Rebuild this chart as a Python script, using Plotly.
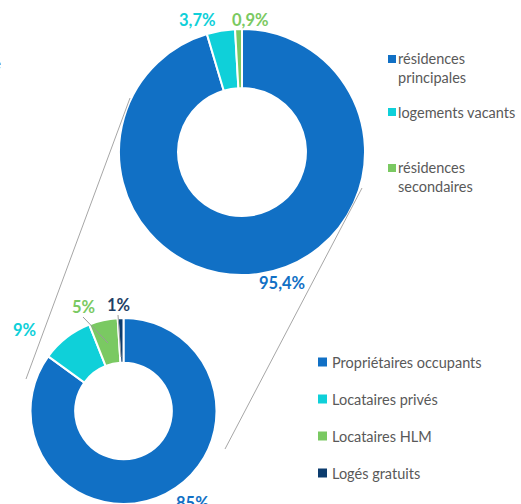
import plotly.graph_objects as go

# --- data -------------------------------------------------------------
parc_labels = ["résidences principales", "logements vacants", "résidences secondaires"]
parc_values = [95.4, 3.7, 0.9]
parc_text = ["95,4%", "3,7%", "0,9%"]

occ_labels = ["Propriétaires occupants", "Locataires privés", "Locataires HLM", "Logés gratuits"]
occ_values = [85, 9, 5, 1]
occ_text = ["85%", "9%", "5%", "1%"]

# --- styles -----------------------------------------------------------
W, H = 521, 504
parc_colors = ["#1170c5", "#0fd0d9", "#7ac962"]
occ_colors = ["#1170c5", "#0fd0d9", "#7ac962", "#0c3c6e"]
label_font = "Lato, 'Open Sans', sans-serif"
legend_grey = "#595959"
connector_grey = "#a6a6a6"


def X(px):
    return px / W


def Y(py):
    return 1 - py / H


fig = go.Figure()

# upper donut: centre (242, 152), radius 123 px
fig.add_trace(go.Pie(
    labels=parc_labels, values=parc_values, hole=0.52, sort=False,
    direction="clockwise", rotation=0, textinfo="none", hoverinfo="skip",
    marker=dict(colors=parc_colors, line=dict(color="white", width=2)),
    domain=dict(x=[X(119), X(365)], y=[Y(275), Y(29)]),
    showlegend=False,
))

# lower donut: anchored on the bottom edge
fig.add_trace(go.Pie(
    labels=occ_labels, values=occ_values, hole=0.52, sort=False,
    direction="clockwise", rotation=0, textinfo="none", hoverinfo="skip",
    marker=dict(colors=occ_colors, line=dict(color="white", width=2)),
    domain=dict(x=[X(29), X(218)], y=[0, Y(318)]),
    showlegend=False,
))

annotations = []
shapes = []

# percentage labels around the donuts
parc_label_pos = [(282, 283), (197, 20), (250, 20)]
for txt, col, (px, py) in zip(parc_text, parc_colors, parc_label_pos):
    annotations.append(dict(x=X(px), y=Y(py), xref="paper", yref="paper", text=f"<b>{txt}</b>",
                            showarrow=False, xanchor="center", yanchor="middle",
                            font=dict(family=label_font, size=16.5, color=col)))

occ_label_colors = ["#1170c5", "#0fd0d9", "#7ac962", "#1f3f66"]
occ_label_pos = [(192, 503), (24, 330), (83, 307), (118, 305)]
for txt, col, (px, py) in zip(occ_text, occ_label_colors, occ_label_pos):
    annotations.append(dict(x=X(px), y=Y(py), xref="paper", yref="paper", text=f"<b>{txt}</b>",
                            showarrow=False, xanchor="center", yanchor="middle",
                            font=dict(family=label_font, size=16.5, color=col)))

# leader lines for the two thin slices
for (x0, y0, x1, y1) in [(83, 317, 108, 343), (118, 315, 121, 357)]:
    shapes.append(dict(type="line", xref="paper", yref="paper",
                       x0=X(x0), y0=Y(y0), x1=X(x1), y1=Y(y1),
                       line=dict(color="#9a9a9a", width=1)))

# connector lines between the two donuts
for (x0, y0, x1, y1) in [(130, 98, 26, 379), (362, 188, 225, 449)]:
    shapes.append(dict(type="line", xref="paper", yref="paper",
                       x0=X(x0), y0=Y(y0), x1=X(x1), y1=Y(y1),
                       line=dict(color=connector_grey, width=1)))

# legends
line_h = 18


def legend(labels, colors, x_sq, x_txt, first_centres, sq):
    for lab, col, yc in zip(labels, colors, first_centres):
        shown = lab.replace(" ", "<br>", 1) if lab.startswith("résidences") else lab
        n = shown.count("<br>") + 1
        shapes.append(dict(type="rect", xref="paper", yref="paper",
                           x0=X(x_sq), x1=X(x_sq + sq), y0=Y(yc - sq / 2), y1=Y(yc + sq / 2),
                           fillcolor=col, line=dict(width=0)))
        annotations.append(dict(x=X(x_txt), y=Y(yc + (n - 1) * line_h / 2), xref="paper", yref="paper",
                                text=shown, showarrow=False, xanchor="left", yanchor="middle",
                                align="left",
                                font=dict(family=label_font, size=14.5, color=legend_grey)))


legend(parc_labels, parc_colors, 388, 396, [59, 112, 168], 8)
legend(occ_labels, occ_colors, 318, 330, [362, 399, 436, 473], 9)

# clipped heading fragment at the left edge
annotations.append(dict(x=X(3), y=Y(63), xref="paper", yref="paper", text="e",
                        showarrow=False, xanchor="right", yanchor="middle",
                        font=dict(family=label_font, size=15, color="#1a1a1a")))

fig.update_layout(
    width=W, height=H, margin=dict(l=0, r=0, t=0, b=0),
    paper_bgcolor="white", plot_bgcolor="white",
    annotations=annotations, shapes=shapes,
)

fig.write_html("out.html")
